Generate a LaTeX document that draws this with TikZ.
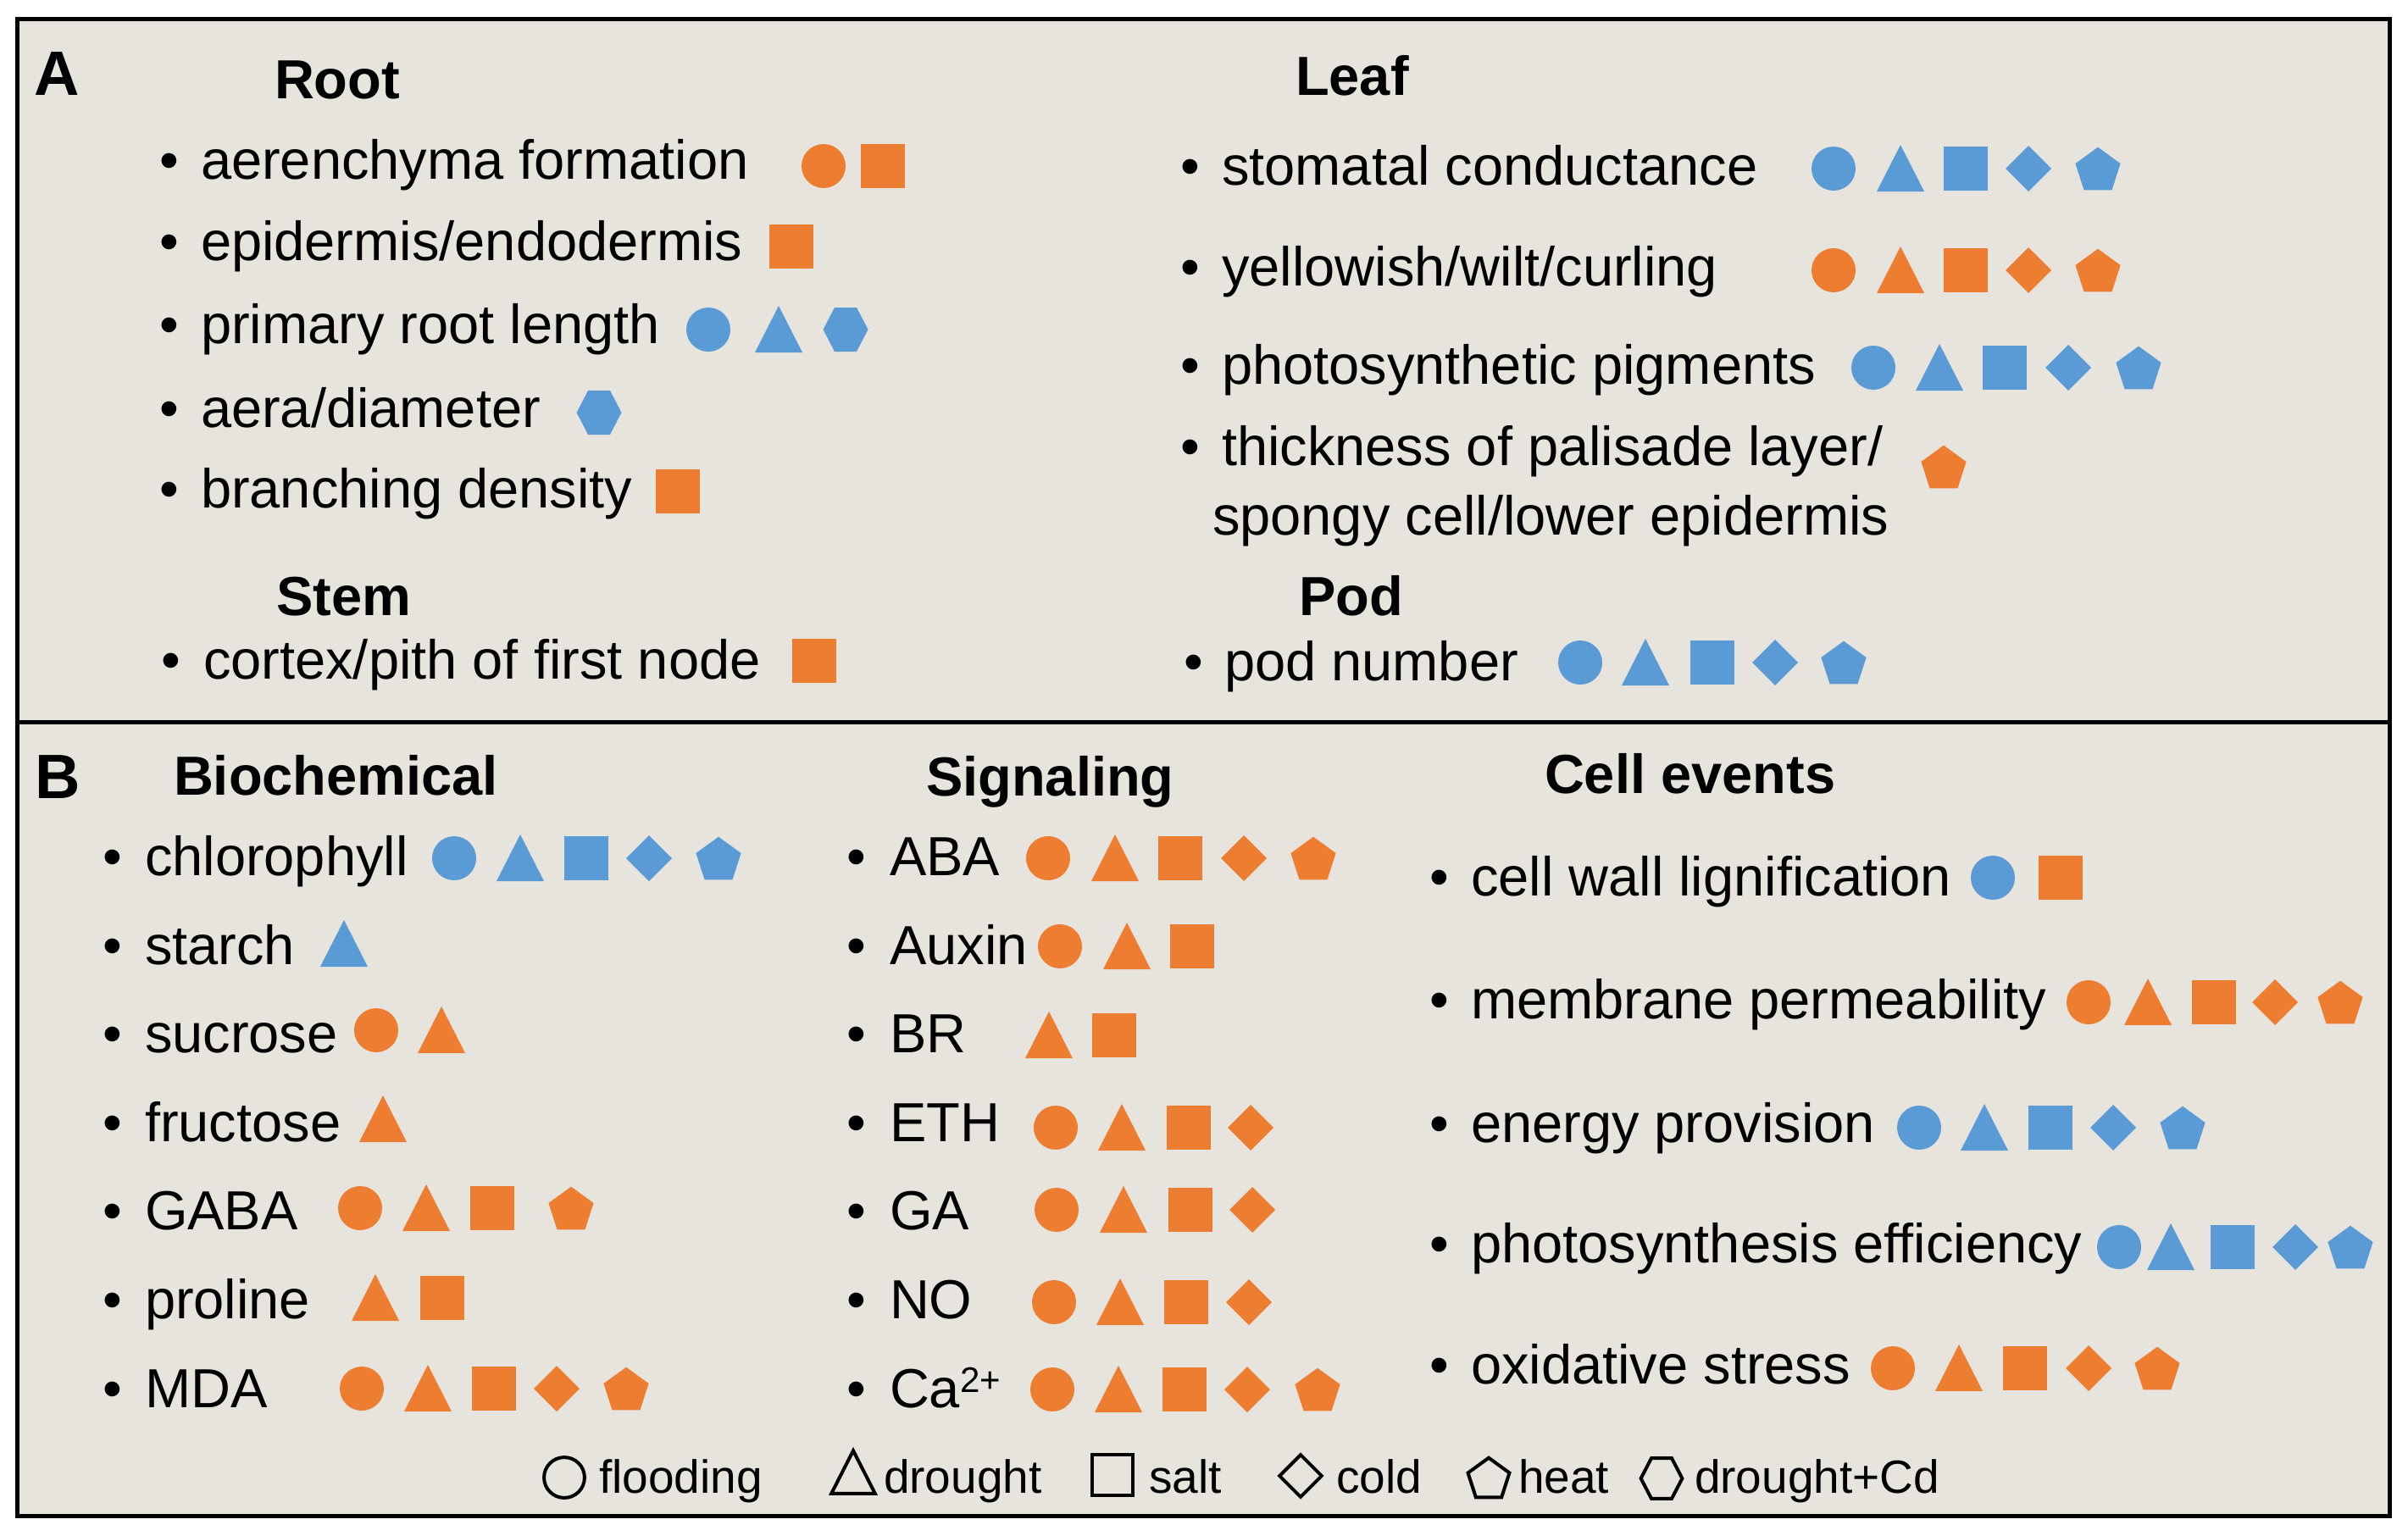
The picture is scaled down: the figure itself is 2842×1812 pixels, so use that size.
\documentclass[tikz,border=0pt]{standalone}
\usepackage{fontspec}
\setmainfont{Liberation Sans}
\definecolor{orng}{HTML}{ED7D31}
\definecolor{blu}{HTML}{5B9BD5}
\definecolor{bgc}{HTML}{E7E4DE}
\tikzset{
 pics/ci/.style={code={\path[pic actions] (0,0) circle[radius=26pt];}},
 pics/sq/.style={code={\path[pic actions] (-26,-26) rectangle (26,26);}},
 pics/tr/.style={code={\path[pic actions] (-28,27) -- (28,27) -- (0,-28) -- cycle;}},
 pics/di/.style={code={\path[pic actions] (-27,0) -- (0,-27) -- (27,0) -- (0,27) -- cycle;}},
 pics/pe/.style={code={\path[pic actions] (0,-25.3) -- (26.6,-6) -- (16.5,25.3) -- (-16.5,25.3) -- (-26.6,-6) -- cycle;}},
 pics/hx/.style={code={\path[pic actions] (-26.5,0) -- (-13,-26) -- (13,-26) -- (26.5,0) -- (13,26) -- (-13,26) -- cycle;}},
}
\newcommand\bitem[5]{\node[bul] (#1b) at (#2,#4) {\textbullet}; \node[txt] (#1) at (#3,#4) {#5};}
\begin{document}
\begin{tikzpicture}[x=1pt,y=-1pt,
  txt/.style={font=\fontsize{65}{78}\selectfont, inner sep=0pt, outer sep=0pt, anchor=base west},
  bul/.style={font=\fontsize{65}{78}\selectfont, inner sep=0pt, outer sep=0pt, anchor=base},
  hd/.style={font=\fontsize{65}{78}\selectfont\bfseries, inner sep=0pt, outer sep=0pt, anchor=base west},
  lab/.style={font=\fontsize{74}{88}\selectfont\bfseries, inner sep=0pt, outer sep=0pt, anchor=base west},
  lg/.style={font=\fontsize{55}{66}\selectfont, inner sep=0pt, outer sep=0pt, anchor=base west},
  ofill/.style={fill=orng}, bfill/.style={fill=blu},
  legsym/.style={draw=black, line width=4pt, scale=0.92},
]
\fill[white] (0,0) rectangle (2842,1812);
\useasboundingbox (0,0) rectangle (2842,1812);
\fill[bgc] (20,22) rectangle (2820,1789);
\draw[line width=5pt] (20,22) rectangle (2820,1789);
\draw[line width=5pt] (20,852) -- (2820,852);

% ---------- A ----------
\node[lab] (lA) at (40,112) {A};
\node[hd] (hRoot) at (324,116) {Root};
\bitem{a1}{200}{237}{211}{aerenchyma formation}
\pic[ofill] at (972,196) {ci}; \pic[ofill] at (1042,196) {sq};
\bitem{a2}{200}{237}{307}{epidermis/endodermis}
\pic[ofill] at (934,291) {sq};
\bitem{a3}{200}{237}{405}{primary root length}
\pic[bfill] at (836,389) {ci}; \pic[bfill] at (919,389) {tr}; \pic[bfill] at (998,389) {hx};
\bitem{a4}{200}{237}{504}{aera/diameter}
\pic[bfill] at (707,487) {hx};
\bitem{a5}{200}{237}{599}{branching density}
\pic[ofill] at (800,580) {sq};
\node[hd] (hStem) at (326,726) {Stem};
\bitem{a6}{202}{240}{801}{cortex/pith of first node}
\pic[ofill] at (961,780) {sq};

\node[hd] (hLeaf) at (1529,112) {Leaf};
\bitem{l1}{1405}{1442}{218}{stomatal conductance}
\pic[bfill] at (2164,199) {ci}; \pic[bfill] at (2243,199) {tr}; \pic[bfill] at (2320,199) {sq}; \pic[bfill] at (2394,199) {di}; \pic[bfill] at (2476,199) {pe};
\bitem{l2}{1405}{1442}{337}{yellowish/wilt/curling}
\pic[ofill] at (2164,319) {ci}; \pic[ofill] at (2243,319) {tr}; \pic[ofill] at (2320,319) {sq}; \pic[ofill] at (2394,319) {di}; \pic[ofill] at (2476,319) {pe};
\bitem{l3}{1405}{1442}{453}{photosynthetic pigments}
\pic[bfill] at (2211,434) {ci}; \pic[bfill] at (2289,434) {tr}; \pic[bfill] at (2366,434) {sq}; \pic[bfill] at (2441,434) {di}; \pic[bfill] at (2524,434) {pe};
\bitem{l4}{1405}{1442}{549}{thickness of palisade layer/}
\node[txt] (l4s) at (1431,631) {spongy cell/lower epidermis};
\pic[ofill] at (2294,551) {pe};
\node[hd] (hPod) at (1533,726) {Pod};
\bitem{l5}{1409}{1445}{803}{pod number}
\pic[bfill] at (1865,782) {ci}; \pic[bfill] at (1942,782) {tr}; \pic[bfill] at (2021,782) {sq}; \pic[bfill] at (2095,782) {di}; \pic[bfill] at (2176,782) {pe};

% ---------- B ----------
\node[lab] (lB) at (41,942) {B};
\node[hd] (hBio) at (205,938) {Biochemical};
\bitem{b1}{133}{171}{1033}{chlorophyll}
\pic[bfill] at (536,1013) {ci}; \pic[bfill] at (614,1013) {tr}; \pic[bfill] at (692,1013) {sq}; \pic[bfill] at (766,1013) {di}; \pic[bfill] at (848,1013) {pe};
\bitem{b2}{133}{171}{1138}{starch}
\pic[bfill] at (406,1114) {tr};
\bitem{b3}{133}{171}{1242}{sucrose}
\pic[ofill] at (444,1216) {ci}; \pic[ofill] at (521,1216) {tr};
\bitem{b4}{133}{171}{1347}{fructose}
\pic[ofill] at (452,1321) {tr};
\bitem{b5}{133}{171}{1451}{GABA}
\pic[ofill] at (425,1426) {ci}; \pic[ofill] at (503,1426) {tr}; \pic[ofill] at (581,1426) {sq}; \pic[ofill] at (674,1426) {pe};
\bitem{b6}{133}{171}{1556}{proline}
\pic[ofill] at (443,1532) {tr}; \pic[ofill] at (522,1532) {sq};
\bitem{b7}{133}{171}{1661}{MDA}
\pic[ofill] at (427,1639) {ci}; \pic[ofill] at (505,1639) {tr}; \pic[ofill] at (583,1639) {sq}; \pic[ofill] at (657,1639) {di}; \pic[ofill] at (739,1639) {pe};

\node[hd] (hSig) at (1093,939) {Signaling};
\bitem{s1}{1011}{1050}{1033}{ABA}
\pic[ofill] at (1237,1013) {ci}; \pic[ofill] at (1316,1013) {tr}; \pic[ofill] at (1393,1013) {sq}; \pic[ofill] at (1468,1013) {di}; \pic[ofill] at (1550,1013) {pe};
\bitem{s2}{1011}{1050}{1138}{Auxin}
\pic[ofill] at (1251,1117) {ci}; \pic[ofill] at (1330,1117) {tr}; \pic[ofill] at (1407,1117) {sq};
\bitem{s3}{1011}{1050}{1242}{BR}
\pic[ofill] at (1238,1222) {tr}; \pic[ofill] at (1315,1222) {sq};
\bitem{s4}{1011}{1050}{1347}{ETH}
\pic[ofill] at (1246,1331) {ci}; \pic[ofill] at (1324,1331) {tr}; \pic[ofill] at (1403,1331) {sq}; \pic[ofill] at (1476,1331) {di};
\bitem{s5}{1011}{1050}{1451}{GA}
\pic[ofill] at (1247,1428) {ci}; \pic[ofill] at (1326,1428) {tr}; \pic[ofill] at (1405,1428) {sq}; \pic[ofill] at (1478,1428) {di};
\bitem{s6}{1011}{1050}{1556}{NO}
\pic[ofill] at (1244,1537) {ci}; \pic[ofill] at (1322,1537) {tr}; \pic[ofill] at (1400,1537) {sq}; \pic[ofill] at (1474,1537) {di};
\bitem{s7}{1011}{1050}{1661}{Ca\raisebox{18pt}{\fontsize{42}{42}\selectfont 2+}}
\pic[ofill] at (1242,1640) {ci}; \pic[ofill] at (1320,1640) {tr}; \pic[ofill] at (1398,1640) {sq}; \pic[ofill] at (1472,1640) {di}; \pic[ofill] at (1555,1640) {pe};

\node[hd] (hCell) at (1823,936) {Cell events};
\bitem{c1}{1699}{1736}{1057}{cell wall lignification}
\pic[bfill] at (2352,1036) {ci}; \pic[ofill] at (2432,1036) {sq};
\bitem{c2}{1699}{1736}{1202}{membrane permeability}
\pic[ofill] at (2465,1183) {ci}; \pic[ofill] at (2535,1183) {tr}; \pic[ofill] at (2613,1183) {sq}; \pic[ofill] at (2685,1183) {di}; \pic[ofill] at (2762,1183) {pe};
\bitem{c3}{1699}{1736}{1348}{energy provision}
\pic[bfill] at (2265,1331) {ci}; \pic[bfill] at (2342,1331) {tr}; \pic[bfill] at (2420,1331) {sq}; \pic[bfill] at (2494,1331) {di}; \pic[bfill] at (2576,1331) {pe};
\bitem{c4}{1699}{1736}{1490}{photosynthesis efficiency}
\pic[bfill] at (2501,1472) {ci}; \pic[bfill] at (2562,1472) {tr}; \pic[bfill] at (2635,1472) {sq}; \pic[bfill] at (2709,1472) {di}; \pic[bfill] at (2774,1472) {pe};
\bitem{c5}{1699}{1736}{1633}{oxidative stress}
\pic[ofill] at (2234,1615) {ci}; \pic[ofill] at (2312,1615) {tr}; \pic[ofill] at (2390,1615) {sq}; \pic[ofill] at (2465,1615) {di}; \pic[ofill] at (2546,1615) {pe};

% ---------- legend ----------
\pic[legsym] at (666,1744) {ci};   \node[lg] (g1) at (707,1762) {flooding};
\pic[legsym] at (1007,1738) {tr};  \node[lg] (g2) at (1043,1762) {drought};
\pic[legsym] at (1313,1741) {sq};  \node[lg] (g3) at (1356,1762) {salt};
\pic[legsym] at (1535,1742) {di};  \node[lg] (g4) at (1577,1762) {cold};
\pic[legsym] at (1757,1744) {pe};  \node[lg] (g5) at (1792,1762) {heat};
\pic[legsym] at (1961,1745) {hx};  \node[lg] (g6) at (2000,1762) {drought+Cd};
\end{tikzpicture}
\end{document}
